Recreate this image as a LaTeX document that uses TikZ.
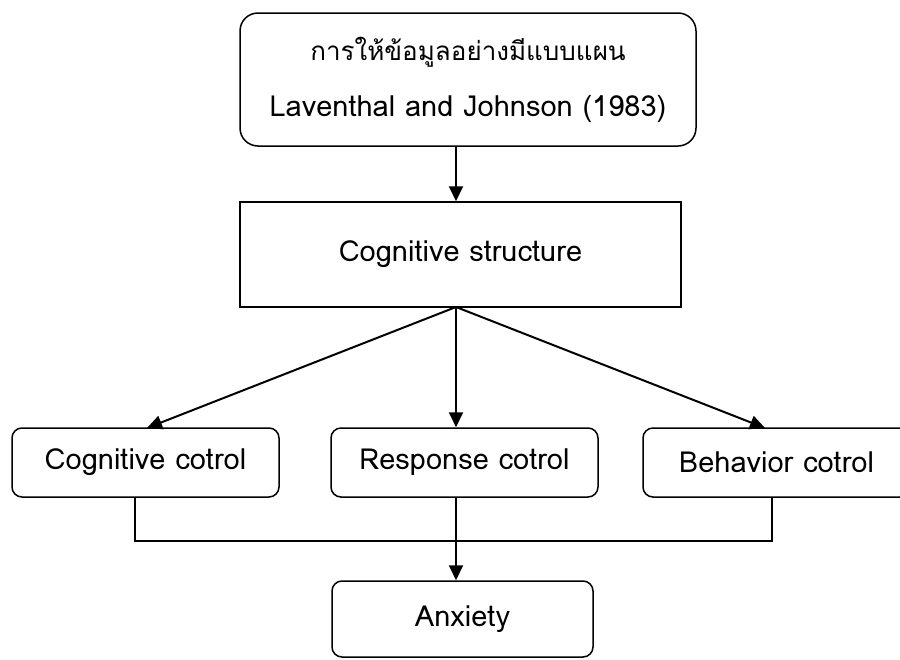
\documentclass[tikz,border=0pt]{standalone}
\usepackage{fontspec}
\setmainfont{Loma}[Script=Thai]
\usetikzlibrary{arrows.meta}
\begin{document}
\begin{tikzpicture}[x=1pt,y=-1pt,
  box/.style={draw,line width=1.5pt,inner sep=0pt,font=\fontsize{29}{56}\selectfont},
  rbox/.style={box,rounded corners=10pt},
  arr/.style={line width=2pt,-{Triangle[length=15pt,width=14pt]}},
  link/.style={line width=1.5pt}]
\useasboundingbox (0,0) rectangle (900,659);
\clip (0,0) rectangle (900,659);
\fill[white] (0,0) rectangle (900,659);
\node[rbox,rounded corners=18pt,minimum width=456pt,minimum height=133pt,align=center] (src) at (468,79.5)
  {{\fontsize{26}{56}\selectfont การให้ข้อมูลอย่างมีแบบแผน}\\Laventhal and Johnson (1983)};
\node[box,minimum width=441pt,minimum height=105pt] (cs) at (460.5,254.5) {Cognitive structure};
\node[rbox,minimum width=267pt,minimum height=69pt] (cc) at (145.5,462.5) {\raisebox{-5pt}{Cognitive cotrol}};
\node[rbox,minimum width=267pt,minimum height=69pt] (rc) at (464.5,462.5) {\raisebox{-5pt}{Response cotrol}};
\node[rbox,minimum width=267pt,minimum height=69pt] (bc) at (776.5,462.5) {\raisebox{-5pt}{Behavior cotrol}};
\node[rbox,minimum width=261pt,minimum height=76pt] (ax) at (462.5,619) {Anxiety};
\coordinate (top) at (456,146);
\coordinate (hub) at (456,307);
\coordinate (jl) at (135,541);
\coordinate (jm) at (456,541);
\coordinate (jr) at (772,541);
\draw[arr] (top) -- (top |- cs.north);
\draw[arr] (hub) -- (147,428);
\draw[arr] (hub) -- (hub |- rc.north);
\draw[arr] (hub) -- (765,428);
\draw[link] (jl |- cc.south) -- (jl) -- (jr) -- (jr |- bc.south);
\draw[arr] (jm |- rc.south) -- (jm |- ax.north);
\end{tikzpicture}
\end{document}
